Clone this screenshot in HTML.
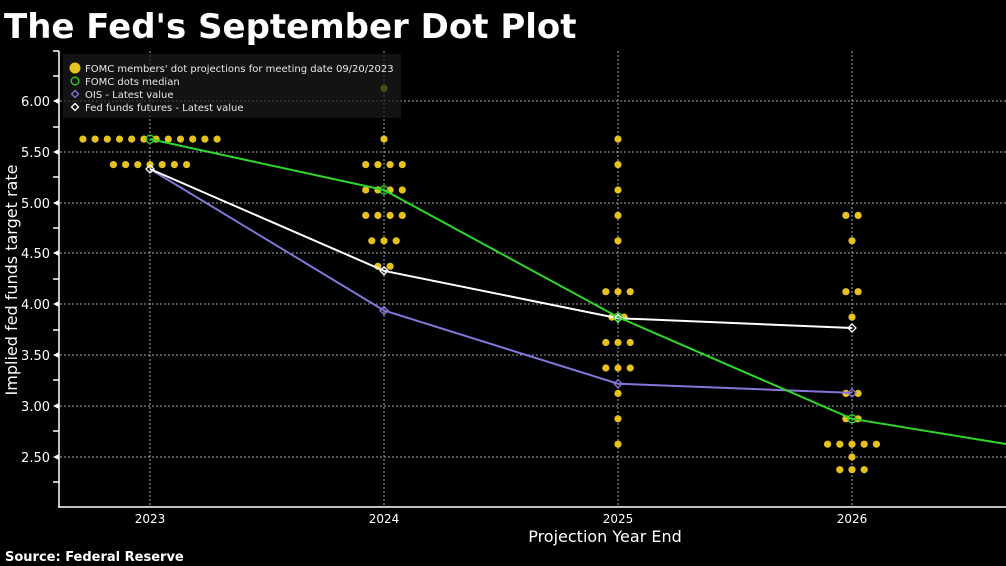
<!DOCTYPE html>
<html><head><meta charset="utf-8"><style>
html,body{margin:0;padding:0;background:#000;width:1006px;height:566px;overflow:hidden}
svg{display:block}
text{font-family:"DejaVu Sans","Liberation Sans",sans-serif}
</style></head><body>
<svg width="1006" height="566" viewBox="0 0 1006 566" xmlns="http://www.w3.org/2000/svg">
<rect width="1006" height="566" fill="#000"/>
<text x="4" y="38" fill="#fff" font-size="34" font-weight="bold" font-family="DejaVu Sans,sans-serif">The Fed's September Dot Plot</text>
<!-- grid -->
<g stroke="#aaa" stroke-width="1" stroke-dasharray="2,2">
<line x1="60" y1="101" x2="1006" y2="101"/><line x1="60" y1="152" x2="1006" y2="152"/><line x1="60" y1="203" x2="1006" y2="203"/><line x1="60" y1="253" x2="1006" y2="253"/><line x1="60" y1="304" x2="1006" y2="304"/><line x1="60" y1="355" x2="1006" y2="355"/><line x1="60" y1="406" x2="1006" y2="406"/><line x1="60" y1="457" x2="1006" y2="457"/>
<line x1="150" y1="51" x2="150" y2="507"/><line x1="384" y1="51" x2="384" y2="507"/><line x1="618" y1="51" x2="618" y2="507"/><line x1="852" y1="51" x2="852" y2="507"/>
</g>
<!-- axes -->
<g stroke="#fff" stroke-width="1.5">
<line x1="59" y1="51" x2="59" y2="507"/><line x1="58" y1="507" x2="1006" y2="507"/>
<line x1="53" y1="51" x2="59" y2="51"/><line x1="53" y1="76" x2="59" y2="76"/><line x1="53" y1="127" x2="59" y2="127"/><line x1="53" y1="177" x2="59" y2="177"/><line x1="53" y1="228" x2="59" y2="228"/><line x1="53" y1="279" x2="59" y2="279"/><line x1="53" y1="330" x2="59" y2="330"/><line x1="53" y1="380" x2="59" y2="380"/><line x1="53" y1="431" x2="59" y2="431"/><line x1="53" y1="482" x2="59" y2="482"/>
</g>
<g fill="#fff"><path d="M53,101l6,-3v6z"/><path d="M53,152l6,-3v6z"/><path d="M53,203l6,-3v6z"/><path d="M53,253l6,-3v6z"/><path d="M53,304l6,-3v6z"/><path d="M53,355l6,-3v6z"/><path d="M53,406l6,-3v6z"/><path d="M53,457l6,-3v6z"/></g>
<g fill="#fff" font-size="13" text-anchor="end">
<text x="50" y="106">6.00</text><text x="50" y="157">5.50</text><text x="50" y="208">5.00</text><text x="50" y="258">4.50</text><text x="50" y="309">4.00</text><text x="50" y="360">3.50</text><text x="50" y="411">3.00</text><text x="50" y="462">2.50</text>
</g>
<g fill="#fff" font-size="12" text-anchor="middle">
<text x="150" y="523">2023</text><text x="384" y="523">2024</text><text x="618" y="523">2025</text><text x="852" y="523">2026</text>
</g>
<text x="605" y="542" fill="#fff" font-size="16" text-anchor="middle">Projection Year End</text>
<text transform="translate(17,280) rotate(-90)" fill="#fff" font-size="16" text-anchor="middle">Implied fed funds target rate</text>
<text x="5" y="561" fill="#fff" font-size="13" font-weight="bold">Source: Federal Reserve</text>
<!-- dots -->
<g fill="#e6c21f">
<circle cx="82.9" cy="139.1" r="3.6"/><circle cx="95.1" cy="139.1" r="3.6"/><circle cx="107.3" cy="139.1" r="3.6"/><circle cx="119.5" cy="139.1" r="3.6"/><circle cx="131.7" cy="139.1" r="3.6"/><circle cx="143.9" cy="139.1" r="3.6"/><circle cx="156.1" cy="139.1" r="3.6"/><circle cx="168.3" cy="139.1" r="3.6"/><circle cx="180.5" cy="139.1" r="3.6"/><circle cx="192.7" cy="139.1" r="3.6"/><circle cx="204.9" cy="139.1" r="3.6"/><circle cx="217.1" cy="139.1" r="3.6"/>
<circle cx="113.4" cy="164.6" r="3.6"/><circle cx="125.6" cy="164.6" r="3.6"/><circle cx="137.8" cy="164.6" r="3.6"/><circle cx="150" cy="164.6" r="3.6"/><circle cx="162.2" cy="164.6" r="3.6"/><circle cx="174.4" cy="164.6" r="3.6"/><circle cx="186.6" cy="164.6" r="3.6"/>
<circle cx="384" cy="88.3" r="3.6"/><circle cx="384" cy="139.1" r="3.6"/>
<circle cx="365.7" cy="164.6" r="3.6"/><circle cx="377.9" cy="164.6" r="3.6"/><circle cx="390.1" cy="164.6" r="3.6"/><circle cx="402.3" cy="164.6" r="3.6"/>
<circle cx="365.7" cy="190" r="3.6"/><circle cx="377.9" cy="190" r="3.6"/><circle cx="390.1" cy="190" r="3.6"/><circle cx="402.3" cy="190" r="3.6"/>
<circle cx="365.7" cy="215.4" r="3.6"/><circle cx="377.9" cy="215.4" r="3.6"/><circle cx="390.1" cy="215.4" r="3.6"/><circle cx="402.3" cy="215.4" r="3.6"/>
<circle cx="371.8" cy="240.8" r="3.6"/><circle cx="384" cy="240.8" r="3.6"/><circle cx="396.2" cy="240.8" r="3.6"/>
<circle cx="377.9" cy="266.3" r="3.6"/><circle cx="390.1" cy="266.3" r="3.6"/>
<circle cx="618" cy="139.1" r="3.6"/><circle cx="618" cy="164.6" r="3.6"/><circle cx="618" cy="190" r="3.6"/><circle cx="618" cy="215.4" r="3.6"/><circle cx="618" cy="240.8" r="3.6"/>
<circle cx="605.8" cy="291.7" r="3.6"/><circle cx="618" cy="291.7" r="3.6"/><circle cx="630.2" cy="291.7" r="3.6"/>
<circle cx="611.9" cy="317.1" r="3.6"/><circle cx="624.1" cy="317.1" r="3.6"/>
<circle cx="605.8" cy="342.5" r="3.6"/><circle cx="618" cy="342.5" r="3.6"/><circle cx="630.2" cy="342.5" r="3.6"/>
<circle cx="605.8" cy="368" r="3.6"/><circle cx="618" cy="368" r="3.6"/><circle cx="630.2" cy="368" r="3.6"/>
<circle cx="618" cy="393.4" r="3.6"/><circle cx="618" cy="418.8" r="3.6"/><circle cx="618" cy="444.2" r="3.6"/>
<circle cx="845.9" cy="215.4" r="3.6"/><circle cx="858.1" cy="215.4" r="3.6"/><circle cx="852" cy="240.8" r="3.6"/>
<circle cx="845.9" cy="291.7" r="3.6"/><circle cx="858.1" cy="291.7" r="3.6"/><circle cx="852" cy="317.1" r="3.6"/>
<circle cx="845.9" cy="393.4" r="3.6"/><circle cx="858.1" cy="393.4" r="3.6"/>
<circle cx="845.9" cy="418.8" r="3.6"/><circle cx="858.1" cy="418.8" r="3.6"/>
<circle cx="827.6" cy="444.2" r="3.6"/><circle cx="839.8" cy="444.2" r="3.6"/><circle cx="852" cy="444.2" r="3.6"/><circle cx="864.2" cy="444.2" r="3.6"/><circle cx="876.4" cy="444.2" r="3.6"/>
<circle cx="852" cy="457" r="3.6"/>
<circle cx="839.8" cy="469.7" r="3.6"/><circle cx="852" cy="469.7" r="3.6"/><circle cx="864.2" cy="469.7" r="3.6"/>
</g>
<!-- lines -->
<polyline points="150,169 384,310.5 618,383.7 852,392.9" fill="none" stroke="#8a72d8" stroke-width="2"/>
<polyline points="150,169 384,270.8 618,318.2 852,328" fill="none" stroke="#fff" stroke-width="2"/>
<polyline points="150,139.1 384,190 618,317.1 852,418.8 1006,444" fill="none" stroke="#2fd62a" stroke-width="2"/>
<g fill="none" stroke-width="1.3">
<path d="M384,306.5 l4,4 -4,4 -4,-4z" stroke="#8a72d8"/><path d="M618,379.7 l4,4 -4,4 -4,-4z" stroke="#8a72d8"/><path d="M852,388.9 l4,4 -4,4 -4,-4z" stroke="#8a72d8"/>
<path d="M150,165 l4,4 -4,4 -4,-4z" stroke="#fff"/><path d="M384,266.8 l4,4 -4,4 -4,-4z" stroke="#fff"/><path d="M618,314.2 l4,4 -4,4 -4,-4z" stroke="#fff"/><path d="M852,324 l4,4 -4,4 -4,-4z" stroke="#fff"/>
<circle cx="150" cy="139.1" r="4" stroke="#2fd62a"/><circle cx="384" cy="190" r="4" stroke="#2fd62a"/><circle cx="618" cy="317.1" r="4" stroke="#2fd62a"/><circle cx="852" cy="418.8" r="4" stroke="#2fd62a"/>
</g>
<!-- legend -->
<rect x="63" y="54" width="338" height="64" fill="#1a1a1a" fill-opacity="0.72"/>
<circle cx="75" cy="68" r="5.5" fill="#e6c21f"/>
<circle cx="75" cy="81" r="3.8" fill="none" stroke="#2fd62a" stroke-width="1.3"/>
<path d="M75,90.5 l3.5,3.5 -3.5,3.5 -3.5,-3.5z" fill="none" stroke="#8a72d8" stroke-width="1.3"/>
<path d="M75,103.5 l3.5,3.5 -3.5,3.5 -3.5,-3.5z" fill="none" stroke="#fff" stroke-width="1.3"/>
<g fill="#e8e8e8" font-size="10">
<text x="85" y="72">FOMC members' dot projections for meeting date 09/20/2023</text>
<text x="85" y="85">FOMC dots median</text>
<text x="85" y="98">OIS - Latest value</text>
<text x="85" y="111">Fed funds futures - Latest value</text>
</g>
</svg>
</body></html>
